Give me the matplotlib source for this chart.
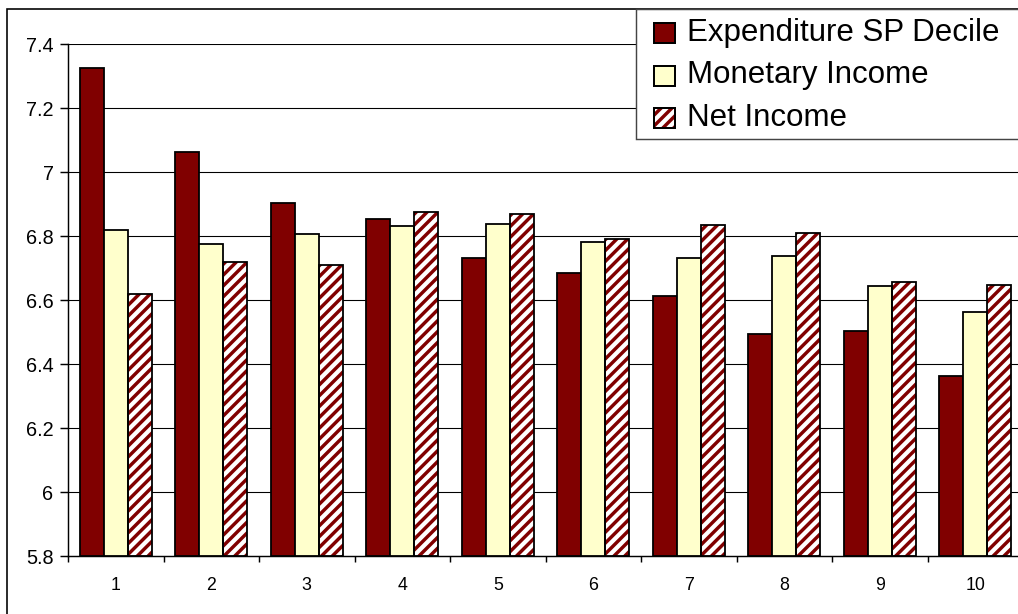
import matplotlib
matplotlib.use("Agg")
import matplotlib.pyplot as plt
from matplotlib.patches import Rectangle

# decile means per measure
deciles = ["1", "2", "3", "4", "5", "6", "7", "8", "9", "10"]
expenditure_sp = [7.325, 7.062, 6.902, 6.853, 6.732, 6.684, 6.613, 6.495, 6.504, 6.363]
monetary_income = [6.820, 6.776, 6.806, 6.830, 6.837, 6.781, 6.732, 6.738, 6.645, 6.563]
net_income = [6.618, 6.720, 6.710, 6.874, 6.870, 6.792, 6.835, 6.808, 6.657, 6.646]
series_names = ["Expenditure SP Decile", "Monetary Income", "Net Income"]
y_ticks = [5.8, 6.0, 6.2, 6.4, 6.6, 6.8, 7.0, 7.2, 7.4]

DARK_RED = "#800000"
PALE_YELLOW = "#FFFFCC"
DPI = 130
W, H = 1018, 614
BASE = 5.8

plt.rcParams["font.family"] = ["Liberation Sans", "DejaVu Sans"]
plt.rcParams["hatch.linewidth"] = 1.9
plt.rcParams["hatch.color"] = DARK_RED

fig = plt.figure(figsize=(W / DPI, H / DPI), dpi=DPI)
ax = fig.add_axes([68 / W, 1 - 556 / H, 955 / W, 512 / H])

x = list(range(len(deciles)))
bw = 0.25
edge_kw = dict(edgecolor="black", linewidth=1.0, zorder=3)

ax.bar([i - bw for i in x], [v - BASE for v in expenditure_sp], bw, bottom=BASE,
       color=DARK_RED, **edge_kw)
ax.bar(x, [v - BASE for v in monetary_income], bw, bottom=BASE,
       color=PALE_YELLOW, **edge_kw)
# hatched fill first, black outline drawn over it
ax.bar([i + bw for i in x], [v - BASE for v in net_income], bw, bottom=BASE,
       color="white", edgecolor=DARK_RED, linewidth=0, hatch="////", zorder=2)
ax.bar([i + bw for i in x], [v - BASE for v in net_income], bw, bottom=BASE,
       facecolor="none", **edge_kw)

ax.set_xlim(-0.5, len(deciles) - 0.5)
ax.set_ylim(5.8, 7.4)
ax.set_yticks(y_ticks)
ax.set_yticklabels([f"{t:g}" for t in y_ticks])
ax.set_xticks([i - 0.5 for i in range(len(deciles) + 1)])
ax.set_xticklabels([])
ax.set_xticks(x, minor=True)
ax.set_xticklabels(deciles, minor=True)
ax.tick_params(axis="x", which="major", length=3.3, width=0.8, direction="out")
ax.tick_params(axis="x", which="minor", length=0, pad=11.5, labelsize=9.8)
ax.tick_params(axis="y", length=4.2, width=0.8, direction="out", pad=3.8, labelsize=11)

for t in y_ticks[1:]:
    ax.axhline(t, color="black", lw=0.6, zorder=1)

for side in ("top", "right"):
    ax.spines[side].set_visible(False)
for side in ("left", "bottom"):
    ax.spines[side].set_linewidth(0.8)

# outer chart border
fig.add_artist(Rectangle((7 / W, -0.1), 1.2, 1 - 9 / H + 0.1, transform=fig.transFigure,
                         fill=False, edgecolor="black", lw=0.9, zorder=10))

# legend box and entries
fig.add_artist(Rectangle((636 / W, 1 - 139 / H), 0.5, 130 / H, transform=fig.transFigure,
                         facecolor="white", edgecolor="#444444", lw=0.8, zorder=11))
fills = [dict(facecolor=DARK_RED), dict(facecolor=PALE_YELLOW),
         dict(facecolor="white", hatch="////")]
for k, (name, kw) in enumerate(zip(series_names, fills)):
    cy = 33 + k * 42.5
    box = (654 / W, 1 - (cy + 10) / H)
    fig.add_artist(Rectangle(box, 21 / W, 20 / H, transform=fig.transFigure,
                             edgecolor=DARK_RED, lw=0, zorder=12, **kw))
    fig.add_artist(Rectangle(box, 21 / W, 20 / H, transform=fig.transFigure,
                             facecolor="none", edgecolor="black", lw=1.1, zorder=13))
    fig.text(687 / W, 1 - (cy + 8) / H, name, fontsize=17.3, va="baseline",
             ha="left", zorder=13)

fig.savefig("out.png", dpi=DPI)
